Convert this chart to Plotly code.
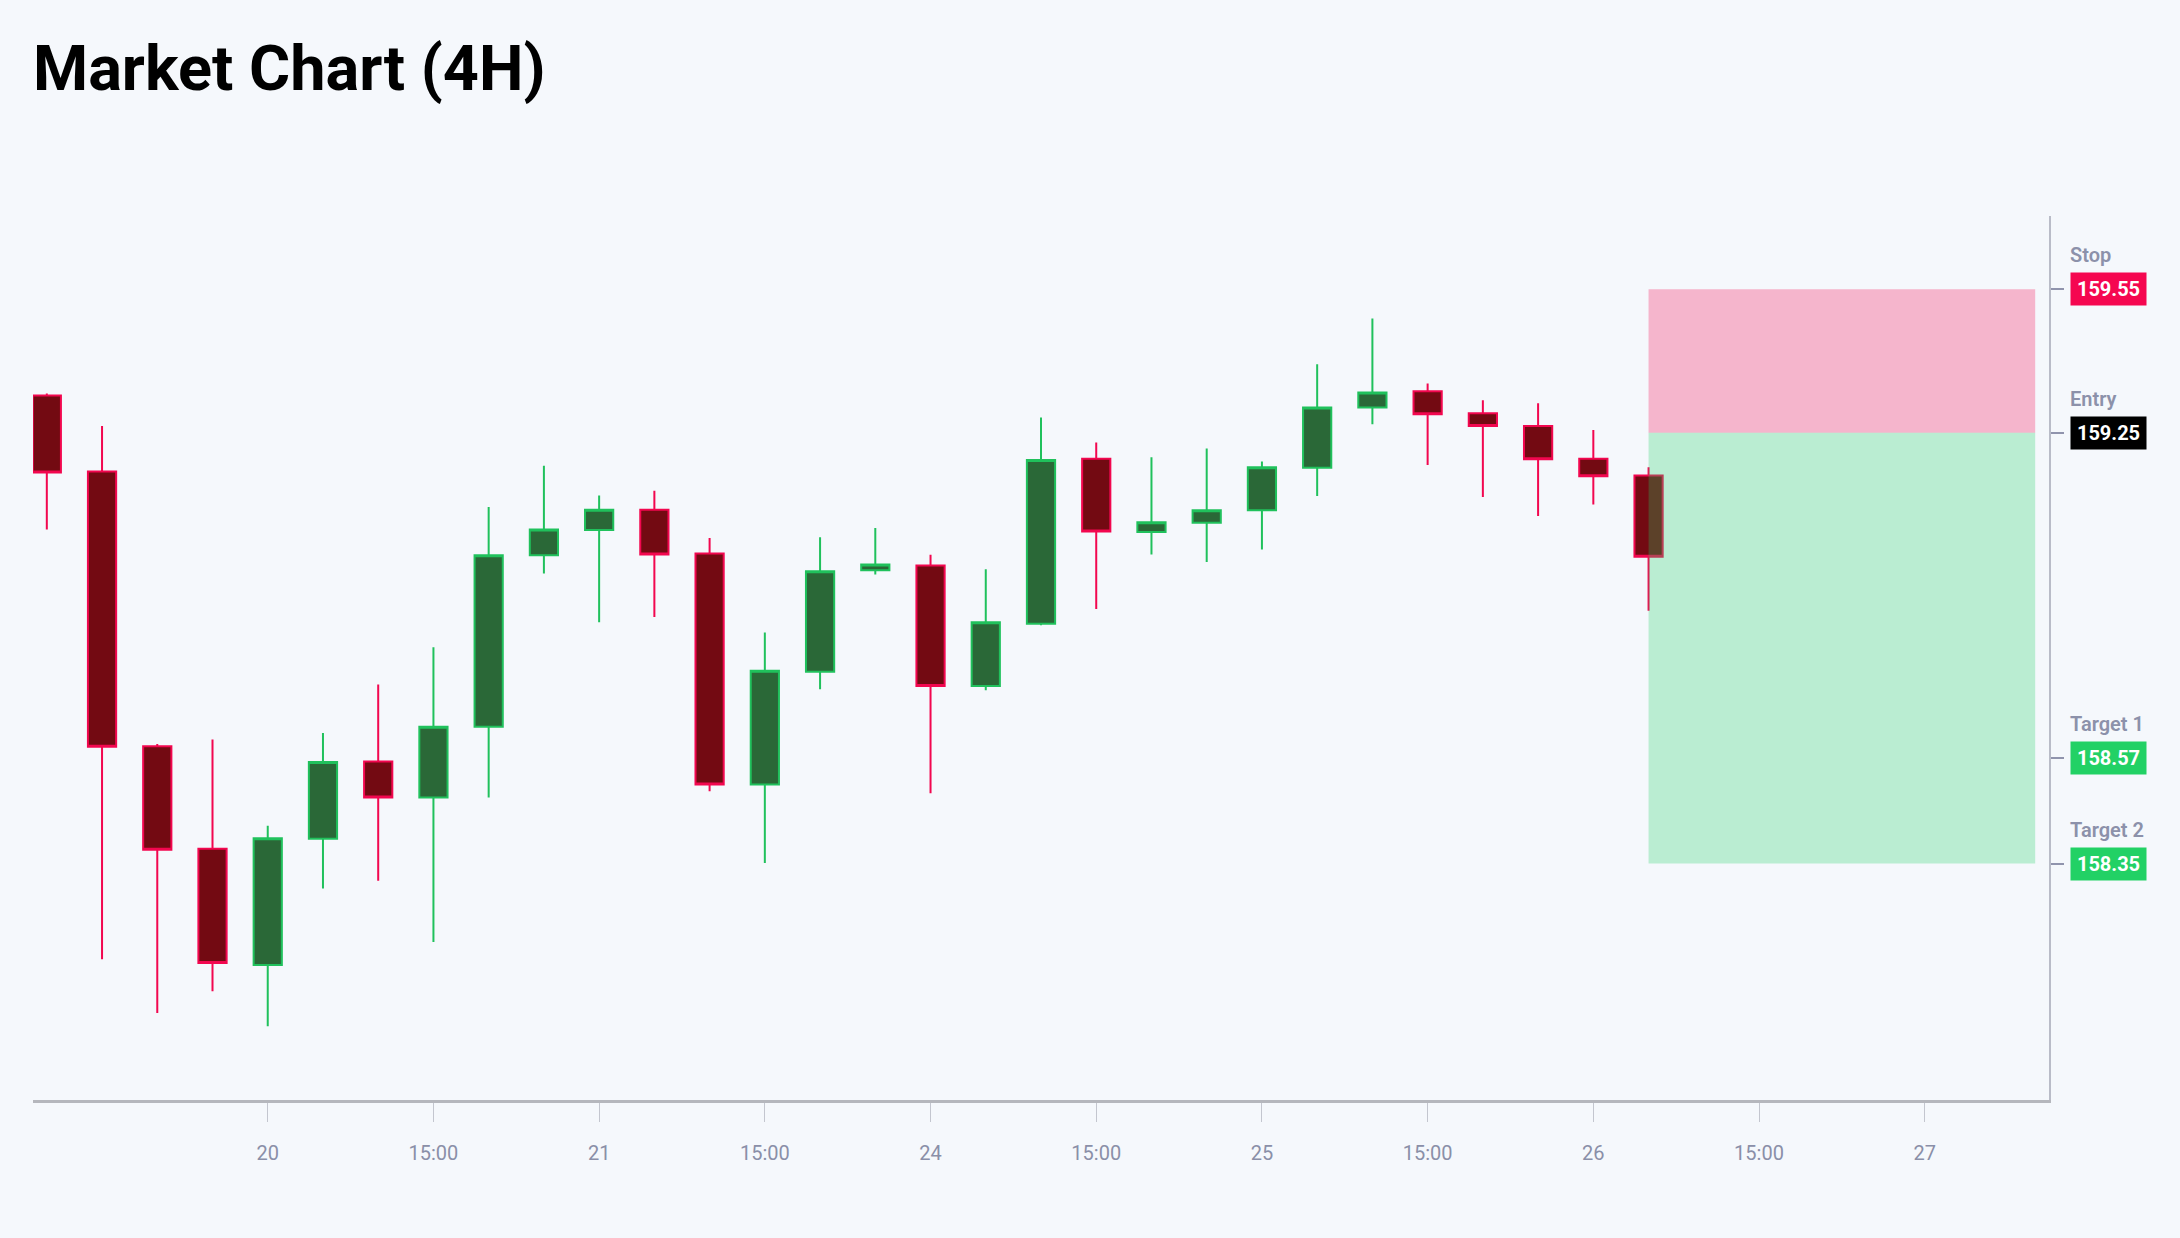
import plotly.graph_objects as go

# 4H candles, Jun 19 - Jun 26 2024 (weekend skipped)
times = ["2024-06-19 08:00", "2024-06-19 12:00", "2024-06-19 16:00", "2024-06-19 20:00",
         "2024-06-20 00:00", "2024-06-20 04:00", "2024-06-20 08:00", "2024-06-20 12:00",
         "2024-06-20 16:00", "2024-06-20 20:00", "2024-06-21 00:00", "2024-06-21 04:00",
         "2024-06-21 08:00", "2024-06-21 12:00", "2024-06-21 16:00", "2024-06-21 20:00",
         "2024-06-24 00:00", "2024-06-24 04:00", "2024-06-24 08:00", "2024-06-24 12:00",
         "2024-06-24 16:00", "2024-06-24 20:00", "2024-06-25 00:00", "2024-06-25 04:00",
         "2024-06-25 08:00", "2024-06-25 12:00", "2024-06-25 16:00", "2024-06-25 20:00",
         "2024-06-26 00:00", "2024-06-26 04:00"]
opens = [159.328, 159.169, 158.595, 158.381, 158.138, 158.402, 158.563, 158.488, 158.636, 158.994,
         159.047, 159.089, 158.998, 158.515, 158.751, 158.963, 158.973, 158.721, 158.851, 159.196,
         159.043, 159.062, 159.088, 159.177, 159.303, 159.337, 159.291, 159.264, 159.196, 159.161]
highs = [159.332, 159.264, 158.600, 158.609, 158.429, 158.623, 158.724, 158.802, 159.095, 159.181,
         159.119, 159.129, 159.030, 158.833, 159.032, 159.051, 158.995, 158.965, 159.282, 159.230,
         159.199, 159.217, 159.190, 159.393, 159.489, 159.353, 159.318, 159.312, 159.256, 159.178]
lows = [159.048, 158.150, 158.038, 158.083, 158.010, 158.298, 158.314, 158.186, 158.488, 158.956,
        158.854, 158.865, 158.501, 158.351, 158.714, 158.954, 158.497, 158.712, 158.848, 158.882,
        158.996, 158.980, 159.006, 159.118, 159.268, 159.183, 159.116, 159.076, 159.100, 158.878]
closes = [159.167, 158.594, 158.379, 158.142, 158.403, 158.562, 158.488, 158.636, 158.994, 159.048,
          159.089, 158.996, 158.515, 158.753, 158.961, 158.975, 158.721, 158.854, 159.193, 159.044,
          159.063, 159.088, 159.178, 159.303, 159.334, 159.289, 159.264, 159.195, 159.159, 158.991]

# trade levels
level_names = ["Stop", "Entry", "Target 1", "Target 2"]
level_values = [159.55, 159.25, 158.57, 158.35]
level_colors = ["#f50750", "#000000", "#22d165", "#22d165"]
zone_start = "2024-06-26 04:00"
zone_end = "2024-06-27 08:00"

tick_vals = ["2024-06-20 00:00", "2024-06-20 12:00", "2024-06-21 00:00", "2024-06-21 12:00",
             "2024-06-24 00:00", "2024-06-24 12:00", "2024-06-25 00:00", "2024-06-25 12:00",
             "2024-06-26 00:00", "2024-06-26 12:00", "2024-06-27 00:00"]
tick_text = ["20", "15:00", "21", "15:00", "24", "15:00", "25", "15:00", "26", "15:00", "27"]

bg = "#f5f8fc"

fig = go.Figure()
fig.add_trace(go.Candlestick(
    x=times, open=opens, high=highs, low=lows, close=closes,
    increasing=dict(line=dict(color="#20c15c", width=2), fillcolor="#2a6837"),
    decreasing=dict(line=dict(color="#f2074f", width=2), fillcolor="#730a12"),
    showlegend=False,
))

# risk / reward zones
fig.add_shape(type="rect", xref="x", yref="y", x0=zone_start, x1=zone_end,
              y0=level_values[1], y1=level_values[0],
              fillcolor=level_colors[0], opacity=0.28, line_width=0, layer="above")
fig.add_shape(type="rect", xref="x", yref="y", x0=zone_start, x1=zone_end,
              y0=level_values[3], y1=level_values[1],
              fillcolor=level_colors[2], opacity=0.28, line_width=0, layer="above")

for name, val, col in zip(level_names, level_values, level_colors):
    fig.add_annotation(x=1, xref="paper", y=val, yref="y", xanchor="left", yanchor="middle",
                       xshift=21, text=f"{val:.2f}", showarrow=False, bgcolor=col,
                       width=75, height=32, borderpad=0, align="center",
                       font=dict(family="Roboto", size=20, color="white", weight="bold"))
    fig.add_annotation(x=1, xref="paper", y=val, yref="y", xanchor="left", yanchor="middle",
                       xshift=19, yshift=34, text=name, showarrow=False,
                       font=dict(family="Roboto", size=20, color="#8c91aa", weight=600))

fig.update_layout(
    width=2180, height=1238, autosize=False,
    title=dict(text="Market Chart (4H)", x=0, xref="paper", xanchor="left",
               y=0.945, yref="container", yanchor="middle",
               font=dict(family="Roboto", size=63, color="#000000", weight="bold")),
    paper_bgcolor=bg, plot_bgcolor=bg,
    margin=dict(l=33, r=131, t=216, b=138),
    boxgap=0.27,
    font=dict(family="Roboto", color="#8a8fa8"),
    xaxis=dict(type="date", range=["2024-06-19 07:00", "2024-06-27 09:00"],
               rangebreaks=[dict(bounds=["sat", "mon"])],
               rangeslider=dict(visible=False),
               tickmode="array", tickvals=tick_vals, ticktext=tick_text,
               showgrid=False, zeroline=False,
               showline=True, linecolor="#b5b7bd", linewidth=3,
               ticks="outside", ticklen=19, tickwidth=1, tickcolor="#c3c6cf",
               ticklabelstandoff=14,
               tickfont=dict(size=20, color="#8a8fa8")),
    yaxis=dict(side="right", range=[157.856, 159.703],
               tickmode="array", tickvals=level_values, showticklabels=False,
               showgrid=False, zeroline=False,
               showline=True, linecolor="#b9bcc8", linewidth=2,
               ticks="outside", ticklen=13, tickwidth=2, tickcolor="#9094ad"),
)

fig.write_html("out.html", config={"displayModeBar": False},
               post_script="document.body.style.margin='0';")
